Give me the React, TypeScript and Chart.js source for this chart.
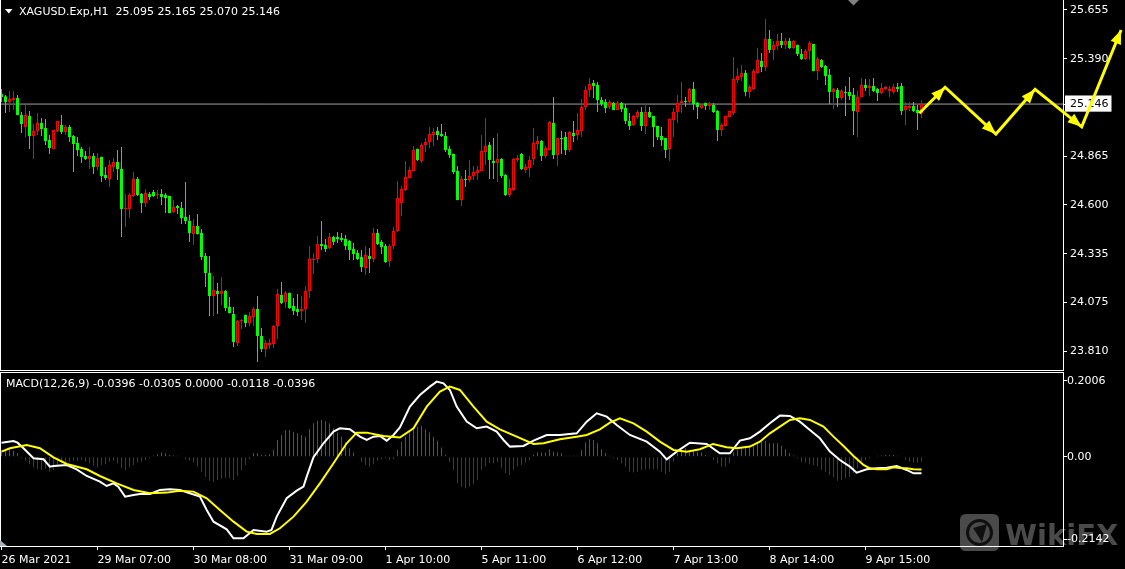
import React, { useEffect, useRef } from 'react';
import { Chart, registerables } from 'chart.js';

Chart.register(...registerables);

// ---------------- data ----------------
const symbolName = 'XAGUSD.Exp,H1';

const opens = [
  25.200,25.189,25.157,25.168,25.179,25.087,25.022,25.081,24.973,25.000,
  25.043,25.016,24.951,24.903,25.000,25.033,24.995,25.022,24.973,24.935,
  24.903,24.865,24.849,24.865,24.805,24.860,24.762,24.740,24.805,24.832,
  24.795,24.578,24.578,24.648,24.740,24.659,24.611,24.659,24.670,24.654,
  24.659,24.654,24.648,24.562,24.594,24.584,24.535,24.513,24.443,24.486,
  24.448,24.324,24.232,24.107,24.134,24.118,24.134,24.048,24.010,23.853,
  23.972,24.005,23.961,23.994,24.037,23.891,23.821,23.842,23.848,23.945,
  24.113,24.075,24.124,24.053,24.037,24.026,24.037,24.134,24.302,24.308,
  24.389,24.383,24.367,24.427,24.427,24.421,24.416,24.405,24.362,24.340,
  24.318,24.259,24.324,24.308,24.448,24.400,24.378,24.297,24.378,24.459,
  24.611,24.681,24.746,24.784,24.903,24.838,24.924,24.941,24.979,25.000,
  24.984,24.973,24.903,24.876,24.784,24.627,24.740,24.735,24.757,24.773,
  24.784,24.887,24.924,24.838,24.827,24.849,24.762,24.654,24.681,24.843,
  24.876,24.789,24.800,24.849,24.930,24.946,24.865,24.897,25.043,24.870,
  24.962,24.968,24.897,24.989,24.979,25.000,25.130,25.222,25.260,25.249,
  25.168,25.157,25.130,25.152,25.114,25.152,25.125,25.054,25.033,25.076,
  25.103,25.027,25.103,25.081,25.027,24.973,24.962,24.903,25.060,25.103,
  25.152,25.163,25.157,25.227,25.152,25.125,25.152,25.135,25.141,25.108,
  25.006,25.027,25.076,25.098,25.276,25.292,25.314,25.211,25.227,25.314,
  25.379,25.346,25.498,25.438,25.460,25.487,25.466,25.487,25.449,25.466,
  25.417,25.390,25.433,25.471,25.325,25.384,25.352,25.303,25.211,25.222,
  25.179,25.211,25.211,25.195,25.103,25.184,25.249,25.233,25.244,25.227,
  25.206,25.227,25.217,25.211,25.238,25.244,25.114,25.125,25.135,25.114,
  25.095,
];

const highs = [
  25.227,25.195,25.217,25.217,25.195,25.103,25.141,25.108,25.038,25.098,
  25.071,25.065,24.979,25.006,25.054,25.087,25.033,25.033,24.979,24.968,
  24.914,24.892,24.914,24.881,24.881,24.862,24.805,24.843,24.854,24.897,
  24.914,24.659,24.665,24.778,24.751,24.665,24.686,24.670,24.681,24.681,
  24.686,24.665,24.650,24.627,24.600,24.616,24.724,24.546,24.524,24.551,
  24.470,24.340,24.324,24.216,24.178,24.210,24.140,24.102,24.048,23.978,
  23.983,24.007,24.021,24.048,24.107,23.934,23.869,23.875,23.950,24.145,
  24.183,24.134,24.126,24.097,24.118,24.107,24.162,24.378,24.340,24.432,
  24.513,24.416,24.448,24.432,24.454,24.448,24.437,24.410,24.394,24.356,
  24.356,24.378,24.367,24.475,24.470,24.410,24.389,24.389,24.481,24.730,
  24.703,24.838,24.805,24.919,24.905,24.935,24.962,25.022,25.016,25.022,
  25.038,24.995,24.919,24.878,24.811,24.757,24.789,24.843,24.811,24.811,
  24.979,25.071,24.941,24.962,24.989,24.854,24.768,24.740,24.854,24.870,
  24.881,24.822,24.865,25.016,24.973,24.951,24.919,25.054,25.184,24.964,
  25.000,24.995,25.000,25.054,25.098,25.173,25.244,25.287,25.276,25.265,
  25.184,25.173,25.168,25.157,25.163,25.157,25.146,25.098,25.087,25.114,
  25.130,25.152,25.130,25.083,25.029,25.022,24.964,25.067,25.125,25.195,
  25.265,25.184,25.233,25.265,25.157,25.146,25.154,25.157,25.152,25.114,
  25.043,25.083,25.110,25.401,25.341,25.357,25.330,25.249,25.336,25.449,
  25.422,25.606,25.547,25.487,25.525,25.530,25.503,25.503,25.493,25.468,
  25.444,25.444,25.487,25.473,25.401,25.390,25.357,25.336,25.233,25.233,
  25.227,25.244,25.292,25.233,25.217,25.287,25.282,25.282,25.287,25.233,
  25.260,25.244,25.244,25.255,25.260,25.260,25.157,25.157,25.157,25.141,
  25.165,
];

const lows = [
  25.157,25.098,25.103,25.114,25.085,24.989,24.968,24.903,24.849,24.979,
  24.973,24.924,24.876,24.903,24.995,24.984,24.979,24.941,24.778,24.865,
  24.827,24.843,24.795,24.768,24.789,24.724,24.735,24.697,24.778,24.735,
  24.427,24.481,24.529,24.643,24.648,24.557,24.589,24.627,24.643,24.632,
  24.600,24.557,24.555,24.557,24.551,24.497,24.497,24.400,24.383,24.440,
  24.302,24.156,23.999,23.999,24.010,24.059,24.026,24.013,23.831,23.837,
  23.929,23.940,23.945,23.945,23.750,23.804,23.777,23.821,23.826,23.875,
  24.064,24.042,24.037,24.005,23.999,23.978,23.961,24.097,24.226,24.286,
  24.356,24.345,24.362,24.383,24.394,24.400,24.356,24.302,24.302,24.302,
  24.237,24.221,24.232,24.291,24.383,24.335,24.286,24.264,24.362,24.454,
  24.540,24.676,24.744,24.782,24.838,24.827,24.887,24.908,24.919,24.951,
  24.968,24.887,24.854,24.768,24.625,24.594,24.697,24.724,24.735,24.735,
  24.782,24.816,24.740,24.740,24.724,24.746,24.648,24.643,24.676,24.832,
  24.789,24.773,24.751,24.816,24.897,24.838,24.854,24.895,24.849,24.811,
  24.876,24.870,24.887,24.941,24.951,24.968,25.114,25.184,25.179,25.103,
  25.135,25.098,25.119,25.112,25.112,25.103,25.038,25.006,25.027,25.065,
  25.000,24.984,25.071,24.914,24.951,24.919,24.854,24.838,24.968,25.043,
  25.098,25.130,25.146,25.114,25.065,25.119,25.114,25.114,25.098,24.946,
  24.973,25.025,25.074,25.087,25.260,25.271,25.189,25.179,25.222,25.312,
  25.319,25.325,25.422,25.384,25.438,25.449,25.444,25.444,25.444,25.406,
  25.384,25.384,25.384,25.323,25.276,25.341,25.249,25.146,25.119,25.130,
  25.168,25.081,25.168,24.979,24.968,25.182,25.217,25.189,25.211,25.163,
  25.200,25.222,25.184,25.200,25.211,25.087,25.033,25.108,25.103,25.006,
  25.070,
];

const closes = [
  25.184,25.157,25.173,25.179,25.087,25.038,25.087,24.973,25.000,25.043,
  25.011,24.946,24.908,25.006,25.054,24.995,25.022,24.968,24.930,24.897,
  24.860,24.849,24.865,24.805,24.854,24.757,24.746,24.816,24.832,24.795,
  24.578,24.584,24.654,24.740,24.654,24.611,24.665,24.643,24.648,24.659,
  24.643,24.638,24.557,24.589,24.584,24.529,24.513,24.448,24.486,24.443,
  24.318,24.232,24.107,24.140,24.118,24.134,24.042,24.015,23.858,23.972,
  23.978,23.961,23.999,24.037,23.891,23.821,23.853,23.853,23.945,24.118,
  24.070,24.124,24.042,24.026,24.021,24.037,24.134,24.308,24.308,24.389,
  24.378,24.362,24.427,24.400,24.416,24.410,24.378,24.356,24.335,24.308,
  24.264,24.329,24.308,24.448,24.389,24.372,24.291,24.378,24.459,24.638,
  24.686,24.751,24.789,24.897,24.843,24.924,24.941,24.984,24.995,24.979,
  24.973,24.897,24.870,24.778,24.627,24.740,24.735,24.757,24.778,24.789,
  24.892,24.919,24.843,24.827,24.849,24.757,24.654,24.692,24.849,24.854,
  24.795,24.805,24.843,24.935,24.946,24.865,24.908,25.049,24.870,24.962,
  24.957,24.897,24.995,24.973,25.006,25.130,25.222,25.255,25.244,25.168,
  25.146,25.125,25.157,25.114,25.152,25.119,25.054,25.027,25.081,25.103,
  25.027,25.103,25.076,25.022,24.968,24.951,24.897,25.065,25.103,25.152,
  25.163,25.157,25.227,25.146,25.130,25.141,25.135,25.146,25.103,25.006,
  25.033,25.081,25.108,25.282,25.298,25.314,25.211,25.238,25.325,25.384,
  25.346,25.498,25.438,25.466,25.487,25.466,25.487,25.449,25.487,25.417,
  25.390,25.433,25.476,25.325,25.390,25.346,25.298,25.211,25.227,25.179,
  25.217,25.206,25.189,25.108,25.184,25.249,25.233,25.244,25.217,25.206,
  25.233,25.238,25.227,25.238,25.227,25.108,25.135,25.135,25.108,25.098,
  25.146,
];

const priceTicks = [25.655, 25.39, 24.865, 24.6, 24.335, 24.075, 23.81];

const timeTickIdx = [0, 24, 48, 72, 96, 120, 144, 168, 192, 216];
const timeTickLabels = [
  '26 Mar 2021', '29 Mar 07:00', '30 Mar 08:00', '31 Mar 09:00', '1 Apr 10:00',
  '5 Apr 11:00', '6 Apr 12:00', '7 Apr 13:00', '8 Apr 14:00', '9 Apr 15:00',
];

// MACD main line (white): bar index / value
const macdIdx = [
  0,3,4,5.5,8,10.5,12.1,13,16.3,18.8,21.3,24.6,26.3,28,29.2,30.9,33,34.6,37.1,39.6,
  42.1,44.6,47.1,49.6,51.3,53,56.3,58,60.5,63,66.3,67.5,68.8,71.3,73.8,75.5,76.3,78,80.5,83,
  84.6,87.1,89.6,91.3,93,94.6,96.3,98,99.6,102.1,104.6,107.1,108.8,110.5,112.1,113.8,116.3,118.8,121.3,123.8,
  125.5,127.1,130.5,133,136.3,139.6,143.8,146.3,148.8,151.3,153.8,157.1,161.3,164.6,166.3,168.8,172.1,176.3,179.6,182.1,
  184.6,187.1,189.6,192.1,194.6,197.1,199.6,202.1,204.6,207.1,209.6,212.1,213.8,216.3,218.8,221.3,223.8,226.3,228,230,
];
const macdVals = [
  0.0336,0.0376,0.0336,0.0201,-0.0039,-0.0063,-0.0239,-0.0223,-0.0199,-0.0303,-0.0463,-0.0599,-0.0703,-0.0639,-0.0719,-0.0958,-0.0918,-0.0894,-0.0894,-0.0798,
  -0.0782,-0.0798,-0.0878,-0.0958,-0.1278,-0.1558,-0.1741,-0.1957,-0.1957,-0.1758,-0.1798,-0.1758,-0.1438,-0.0998,-0.0815,-0.0719,-0.0479,-0.0015,0.0321,0.0600,
  0.0680,0.0656,0.0480,0.0400,0.0480,0.0496,0.0384,0.0520,0.0700,0.1200,0.1479,0.1679,0.1799,0.1759,0.1599,0.1200,0.0840,0.0680,0.0720,0.0600,
  0.0400,0.0241,0.0257,0.0384,0.0520,0.0520,0.0560,0.0840,0.1040,0.0960,0.0760,0.0520,0.0360,0.0121,-0.0063,0.0121,0.0336,0.0305,0.0081,0.0081,
  0.0384,0.0440,0.0600,0.0800,0.0984,0.0976,0.0840,0.0640,0.0440,0.0121,-0.0079,-0.0239,-0.0383,-0.0303,-0.0279,-0.0263,-0.0223,-0.0319,-0.0399,-0.0396,
];

// signal line (yellow)
const signalIdx = [
  0,2.1,6.3,9.6,13,16.3,21.3,24.6,28.8,33,37.1,41.3,44.6,48,51.3,54.6,58,61.3,63.8,67.1,
  69.6,73,76.3,79.6,83,86.3,88.8,91.3,95.5,99.6,103,106.3,109.6,112.1,114.6,118,121.3,124.6,128.8,133,
  135.5,139.6,143.8,146.3,149.6,152.1,154.6,158,161.3,164.6,168,171.3,174.6,177.9,181.3,183.8,187.1,189.6,192.1,194.6,
  197.1,199.6,202.1,205.5,208,210.5,213,215.5,217.1,218.8,221.3,223,224.6,226.3,228,230,
];
const signalVals = [
  0.0121,0.0201,0.0281,0.0201,-0.0015,-0.0175,-0.0303,-0.0463,-0.0639,-0.0798,-0.0878,-0.0862,-0.0815,-0.0838,-0.0998,-0.1278,-0.1558,-0.1798,-0.1853,-0.1853,
  -0.1717,-0.1438,-0.1078,-0.0639,-0.0159,0.0321,0.0576,0.0576,0.0496,0.0460,0.0680,0.1200,0.1559,0.1679,0.1599,0.1200,0.0840,0.0656,0.0480,0.0305,
  0.0321,0.0416,0.0480,0.0520,0.0656,0.0816,0.0920,0.0800,0.0600,0.0360,0.0161,0.0121,0.0177,0.0305,0.0225,0.0201,0.0241,0.0360,0.0560,0.0720,
  0.0880,0.0920,0.0880,0.0720,0.0480,0.0257,0.0017,-0.0199,-0.0279,-0.0303,-0.0303,-0.0255,-0.0271,-0.0279,-0.0303,-0.0305,
];

// histogram, one value per bar
const histVals = [
  0.012,0.016,0.018,0.014,0.008,-0.004,-0.010,-0.018,-0.026,-0.030,
  -0.032,-0.029,-0.036,-0.032,-0.024,-0.016,-0.012,-0.012,-0.010,-0.010,
  -0.008,-0.012,-0.016,-0.021,-0.026,-0.020,-0.018,-0.012,-0.010,-0.016,
  -0.028,-0.032,-0.026,-0.020,-0.014,-0.012,-0.008,-0.004,0.003,0.006,
  0.010,0.008,0.004,0.003,0.002,-0.002,-0.006,-0.010,-0.014,-0.024,
  -0.036,-0.048,-0.058,-0.060,-0.056,-0.053,-0.050,-0.052,-0.056,-0.046,
  -0.032,-0.020,-0.006,0.008,0.008,0.004,0.004,0.006,0.016,0.040,
  0.052,0.064,0.064,0.059,0.056,0.052,0.048,0.066,0.080,0.086,
  0.088,0.085,0.080,0.068,0.058,0.048,0.034,0.020,0.010,-0.002,
  -0.012,-0.020,-0.024,-0.018,-0.010,-0.006,-0.004,-0.008,-0.006,0.016,
  0.036,0.048,0.058,0.066,0.072,0.074,0.066,0.058,0.048,0.038,
  0.022,0.004,-0.012,-0.032,-0.064,-0.072,-0.076,-0.072,-0.066,-0.056,
  -0.032,-0.024,-0.016,-0.016,-0.012,-0.028,-0.040,-0.044,-0.032,-0.024,
  -0.020,-0.014,-0.008,0.004,0.010,0.010,0.010,0.018,0.012,0.010,
  0.008,0.002,0.002,0.002,0.002,0.016,0.034,0.042,0.040,0.032,
  0.018,0.008,0.002,-0.004,-0.008,-0.016,-0.024,-0.036,-0.038,-0.036,
  -0.032,-0.030,-0.030,-0.029,-0.030,-0.036,-0.042,-0.036,-0.012,0.008,
  0.016,0.020,0.016,0.016,0.012,0.010,0.004,0.002,-0.008,-0.016,
  -0.024,-0.024,-0.016,0.010,0.016,0.020,0.020,0.024,0.028,0.036,
  0.036,0.038,0.032,0.032,0.032,0.026,0.018,0.008,0.003,-0.004,
  -0.012,-0.014,-0.018,-0.020,-0.024,-0.032,-0.036,-0.044,-0.050,-0.058,
  -0.056,-0.052,-0.048,-0.040,-0.028,-0.012,-0.008,-0.004,0,0.002,
  0.003,0.004,0.004,0.004,0.002,-0.002,-0.008,-0.012,-0.014,-0.014,
  -0.0118,
];

const macdTickVals = [0.2006, 0, -0.2142];
const macdTickLabels = ['0.2006', '0.00', '-0.2142'];

// hand-drawn forecast arrows (bar index, price), in drawing order
const arrowIdx = [229.45, 235.9, 248.6, 258.4, 270.05, 279.9];
const arrowPrice = [25.096, 25.237, 24.984, 25.226, 25.023, 25.547];

// ---------------- layout / style ----------------
const WIDTH = 1125;
const AXIS_W = 62;
const MAIN_H = 371;
const MACD_TOP = 371;
const MACD_H = 198;
const MACD_PAD_TOP = 2;
const XAXIS_H = 23;
const MACD_PLOT_H = MACD_H - MACD_PAD_TOP - XAXIS_H;
const macdLabelShiftPx = [8, 0, -7];
const X_MIN = -0.375;
const X_MAX = 265.375;
const PRICE_MIN = 23.7072;
const PRICE_MAX = 25.7091;
const MACD_MIN = -0.2142;
const MACD_MAX = 0.2006;
const HEAD_LEN = 14;
const HEAD_HALF_W = 5.5;

const UP = '#FF0000';
const DOWN = '#00FF00';
const ARROW = '#FFFF00';
const FONT = { family: 'DejaVu Sans', size: 11 };

const lastIdx = closes.length - 1;
const lastPrice = closes[lastIdx];
const isUp = (i: number) => closes[i] > opens[i];

const mainTitle = `${symbolName}  ${opens[lastIdx].toFixed(3)} ${highs[lastIdx].toFixed(3)} ${lows[lastIdx].toFixed(3)} ${closes[lastIdx].toFixed(3)}`;
const lastHist = histVals[histVals.length - 1];
const macdTitle = `MACD(12,26,9) ${macdVals[macdVals.length - 1].toFixed(4)} ${signalVals[signalVals.length - 1].toFixed(4)} ${Math.max(lastHist, 0).toFixed(4)} ${Math.min(lastHist, 0).toFixed(4)} ${macdVals[macdVals.length - 1].toFixed(4)}`;

// arrow points listed back-to-front (same polyline) so that Chart.js does not
// trim the points that lie beyond the x axis maximum
const arrowPoints = arrowIdx.map((x, i) => ({ x, y: arrowPrice[i] })).reverse();

const mainDecor = {
  id: 'mainDecor',
  beforeDraw(chart: any) {
    const c = chart.ctx;
    c.save();
    c.fillStyle = '#000000';
    c.fillRect(0, 0, chart.width, chart.height);
    c.restore();
  },
  afterDatasetsDraw(chart: any) {
    // arrowheads at the end of every forecast segment, placed through the scales
    const xs = chart.scales.x;
    const ys = chart.scales.y;
    const c = chart.ctx;
    c.save();
    c.fillStyle = ARROW;
    for (let k = 1; k < arrowIdx.length; k++) {
      const px = xs.getPixelForValue(arrowIdx[k]);
      const py = ys.getPixelForValue(arrowPrice[k]);
      const qx = xs.getPixelForValue(arrowIdx[k - 1]);
      const qy = ys.getPixelForValue(arrowPrice[k - 1]);
      const len = Math.hypot(px - qx, py - qy) || 1;
      const ux = (px - qx) / len;
      const uy = (py - qy) / len;
      const bx = px - ux * HEAD_LEN;
      const by = py - uy * HEAD_LEN;
      c.beginPath();
      c.moveTo(px, py);
      c.lineTo(bx - uy * HEAD_HALF_W, by + ux * HEAD_HALF_W);
      c.lineTo(bx + uy * HEAD_HALF_W, by - ux * HEAD_HALF_W);
      c.closePath();
      c.fill();
    }
    c.restore();
  },
  afterDraw(chart: any) {
    const c = chart.ctx;
    const a = chart.chartArea;
    c.save();
    c.strokeStyle = '#FFFFFF';
    c.lineWidth = 1;
    c.beginPath();
    c.moveTo(a.left + 0.5, a.top);
    c.lineTo(a.left + 0.5, a.bottom + 1);
    c.moveTo(a.left, a.bottom + 0.5);
    c.lineTo(a.right + 1, a.bottom + 0.5);
    c.stroke();
    // title
    c.fillStyle = '#FFFFFF';
    c.beginPath();
    c.moveTo(5, 9);
    c.lineTo(12.5, 9);
    c.lineTo(8.75, 13.5);
    c.closePath();
    c.fill();
    c.font = '11px "DejaVu Sans"';
    c.textBaseline = 'alphabetic';
    c.textAlign = 'left';
    c.fillText(mainTitle, 19, 15);
    // chart shift marker
    c.fillStyle = '#808080';
    c.beginPath();
    c.moveTo(848, 0);
    c.lineTo(859, 0);
    c.lineTo(853.5, 5.5);
    c.closePath();
    c.fill();
    c.restore();
  },
};

const macdDecor = {
  id: 'macdDecor',
  beforeDraw(chart: any) {
    const c = chart.ctx;
    c.save();
    c.fillStyle = '#000000';
    c.fillRect(0, 0, chart.width, chart.height);
    // watermark
    const bx = 960, by = 143, bw = 39, bh = 37, r = 6;
    c.fillStyle = '#4a4a4a';
    c.beginPath();
    c.moveTo(bx + r, by);
    c.lineTo(bx + bw - r, by);
    c.quadraticCurveTo(bx + bw, by, bx + bw, by + r);
    c.lineTo(bx + bw, by + bh - r);
    c.quadraticCurveTo(bx + bw, by + bh, bx + bw - r, by + bh);
    c.lineTo(bx + r, by + bh);
    c.quadraticCurveTo(bx, by + bh, bx, by + bh - r);
    c.lineTo(bx, by + r);
    c.quadraticCurveTo(bx, by, bx + r, by);
    c.closePath();
    c.fill();
    c.strokeStyle = '#101010';
    c.lineWidth = 3;
    c.beginPath();
    c.arc(bx + bw / 2, by + bh / 2, 12, 0, Math.PI * 2);
    c.stroke();
    c.fillStyle = '#101010';
    c.beginPath();
    c.moveTo(bx + 13, by + 14);
    c.lineTo(bx + 27, by + 10);
    c.lineTo(bx + 22, by + 28);
    c.closePath();
    c.fill();
    c.fillStyle = '#4a4a4a';
    c.font = 'bold 29px "DejaVu Sans"';
    c.textBaseline = 'alphabetic';
    c.fillText('WikiFX', 1005, 174);
    c.restore();
  },
  afterDraw(chart: any) {
    const c = chart.ctx;
    const a = chart.chartArea;
    c.save();
    c.strokeStyle = '#FFFFFF';
    c.lineWidth = 1;
    c.beginPath();
    c.moveTo(a.left, a.top - 0.5);
    c.lineTo(a.right + 1, a.top - 0.5);
    c.moveTo(a.left + 0.5, a.top - 1);
    c.lineTo(a.left + 0.5, a.bottom + 1);
    c.stroke();
    c.fillStyle = '#A8B0B8';
    c.beginPath();
    c.moveTo(0, a.bottom - 6);
    c.lineTo(0, a.bottom);
    c.lineTo(7, a.bottom);
    c.closePath();
    c.fill();
    c.fillStyle = '#FFFFFF';
    c.font = '11px "DejaVu Sans"';
    c.textBaseline = 'alphabetic';
    c.textAlign = 'left';
    c.fillText(macdTitle, 6, 16);
    c.restore();
  },
};

function mainConfig(): any {
  const candleColors = opens.map((_, i) => (isUp(i) ? UP : DOWN));
  return {
    type: 'bar',
    data: {
      datasets: [
        {
          type: 'line',
          data: arrowPoints,
          borderColor: ARROW,
          borderWidth: 3,
          pointRadius: 0,
          tension: 0,
          clip: false,
          order: -2,
        },
        {
          type: 'bar',
          data: opens.map((o, i) => ({ x: i, y: [o, closes[i]] })),
          backgroundColor: opens.map((_, i) => (isUp(i) ? '#000000' : DOWN)),
          borderColor: candleColors,
          borderWidth: 1,
          borderSkipped: false,
          minBarLength: 1,
          grouped: false,
          barPercentage: 1,
          categoryPercentage: 1,
          maxBarThickness: 3,
          inflateAmount: 0,
          order: 0,
        },
        {
          type: 'bar',
          data: lows.map((l, i) => ({ x: i, y: [l, highs[i]] })),
          backgroundColor: candleColors,
          borderWidth: 0,
          grouped: false,
          barPercentage: 1,
          categoryPercentage: 1,
          maxBarThickness: 1,
          inflateAmount: 0,
          order: 1,
        },
        {
          type: 'line',
          data: [
            { x: X_MIN, y: lastPrice },
            { x: X_MAX, y: lastPrice },
          ],
          borderColor: '#A0A0A0',
          borderWidth: 1,
          pointRadius: 0,
          order: 2,
        },
      ],
    },
    options: {
      responsive: false,
      animation: false,
      devicePixelRatio: 1,
      events: [],
      layout: { padding: { top: 0, left: 0, right: 0, bottom: 1 }, autoPadding: false },
      plugins: { legend: { display: false }, tooltip: { enabled: false }, title: { display: false } },
      scales: {
        x: {
          type: 'linear',
          display: false,
          min: X_MIN,
          max: X_MAX,
          offset: false,
          grid: { offset: false },
        },
        y: {
          type: 'linear',
          position: 'right',
          min: PRICE_MIN,
          max: PRICE_MAX,
          afterFit: (s: any) => {
            s.width = AXIS_W;
            s.paddingTop = 0;
            s.paddingBottom = 0;
          },
          afterBuildTicks: (s: any) => {
            s.ticks = [...priceTicks, lastPrice].map((v) => ({ value: v }));
          },
          ticks: {
            autoSkip: false,
            padding: 3,
            font: FONT,
            color: (c: any) => (c.tick && c.tick.value === lastPrice ? '#000000' : '#FFFFFF'),
            showLabelBackdrop: (c: any) => !!(c.tick && c.tick.value === lastPrice),
            backdropColor: '#FFFFFF',
            backdropPadding: { top: 2, bottom: 1, left: 5, right: 3 },
            callback: (v: any) => Number(v).toFixed(3),
          },
          grid: { drawOnChartArea: false, drawTicks: true, tickLength: 4, tickColor: '#FFFFFF', color: '#FFFFFF' },
          border: { display: true, color: '#FFFFFF', width: 1 },
        },
      },
    },
    plugins: [mainDecor],
  };
}

function macdConfig(): any {
  return {
    type: 'bar',
    data: {
      datasets: [
        {
          type: 'line',
          data: signalIdx.map((x, i) => ({ x, y: signalVals[i] })),
          borderColor: '#FFFF00',
          borderWidth: 2,
          pointRadius: 0,
          tension: 0,
          order: 0,
        },
        {
          type: 'line',
          data: macdIdx.map((x, i) => ({ x, y: macdVals[i] })),
          borderColor: '#FFFFFF',
          borderWidth: 2,
          pointRadius: 0,
          tension: 0,
          order: 1,
        },
        {
          type: 'bar',
          data: histVals.map((v, i) => ({ x: i, y: v })),
          backgroundColor: histVals.map((v) => (v >= 0 ? '#DC143C' : '#006400')),
          borderWidth: 0,
          grouped: false,
          barPercentage: 1,
          categoryPercentage: 1,
          maxBarThickness: 1,
          inflateAmount: 0,
          order: 2,
        },
      ],
    },
    options: {
      responsive: false,
      animation: false,
      devicePixelRatio: 1,
      events: [],
      layout: { padding: { top: MACD_PAD_TOP, left: 0, right: 0, bottom: 0 }, autoPadding: false },
      plugins: { legend: { display: false }, tooltip: { enabled: false }, title: { display: false } },
      scales: {
        x: {
          type: 'linear',
          min: X_MIN,
          max: X_MAX,
          offset: false,
          afterFit: (s: any) => {
            s.height = XAXIS_H;
            s.paddingLeft = 0;
            s.paddingRight = 0;
          },
          afterBuildTicks: (s: any) => {
            s.ticks = timeTickIdx.map((v) => ({ value: v }));
          },
          ticks: {
            align: 'start',
            autoSkip: false,
            maxRotation: 0,
            minRotation: 0,
            padding: 4,
            color: '#FFFFFF',
            font: FONT,
            callback: (_v: any, i: number) => timeTickLabels[i],
          },
          grid: { drawOnChartArea: false, drawTicks: true, tickLength: 4, tickColor: '#FFFFFF', color: '#FFFFFF', offset: false },
          border: { display: true, color: '#FFFFFF', width: 1 },
        },
        y: {
          type: 'linear',
          position: 'right',
          min: MACD_MIN,
          max: MACD_MAX,
          afterFit: (s: any) => {
            s.width = AXIS_W;
            s.paddingTop = 0;
            s.paddingBottom = 0;
          },
          afterBuildTicks: (s: any) => {
            const perPx = (MACD_MAX - MACD_MIN) / MACD_PLOT_H;
            s.ticks = macdTickVals.map((v, k) => ({ value: v - macdLabelShiftPx[k] * perPx }));
          },
          ticks: {
            autoSkip: false,
            padding: 0,
            color: '#FFFFFF',
            font: FONT,
            callback: (_v: any, i: number) => macdTickLabels[i],
          },
          grid: { drawOnChartArea: false, drawTicks: true, tickLength: 4, tickColor: '#FFFFFF', color: '#FFFFFF' },
          border: { display: true, color: '#FFFFFF', width: 1 },
        },
      },
    },
    plugins: [macdDecor],
  };
}

export default function App() {
  const mainRef = useRef<HTMLCanvasElement>(null);
  const macdRef = useRef<HTMLCanvasElement>(null);

  useEffect(() => {
    document.body.style.margin = '0';
    document.body.style.background = '#000000';
    const main = new Chart(mainRef.current as HTMLCanvasElement, mainConfig());
    const macd = new Chart(macdRef.current as HTMLCanvasElement, macdConfig());
    return () => {
      main.destroy();
      macd.destroy();
    };
  }, []);

  return (
    <div style={{ position: 'fixed', left: 0, top: 0, width: WIDTH, height: 569, background: '#000000', overflow: 'hidden' }}>
      <canvas
        ref={mainRef}
        width={WIDTH}
        height={MAIN_H}
        style={{ position: 'absolute', left: 0, top: 0, width: WIDTH, height: MAIN_H }}
      />
      <canvas
        ref={macdRef}
        width={WIDTH}
        height={MACD_H}
        style={{ position: 'absolute', left: 0, top: MACD_TOP, width: WIDTH, height: MACD_H }}
      />
    </div>
  );
}
